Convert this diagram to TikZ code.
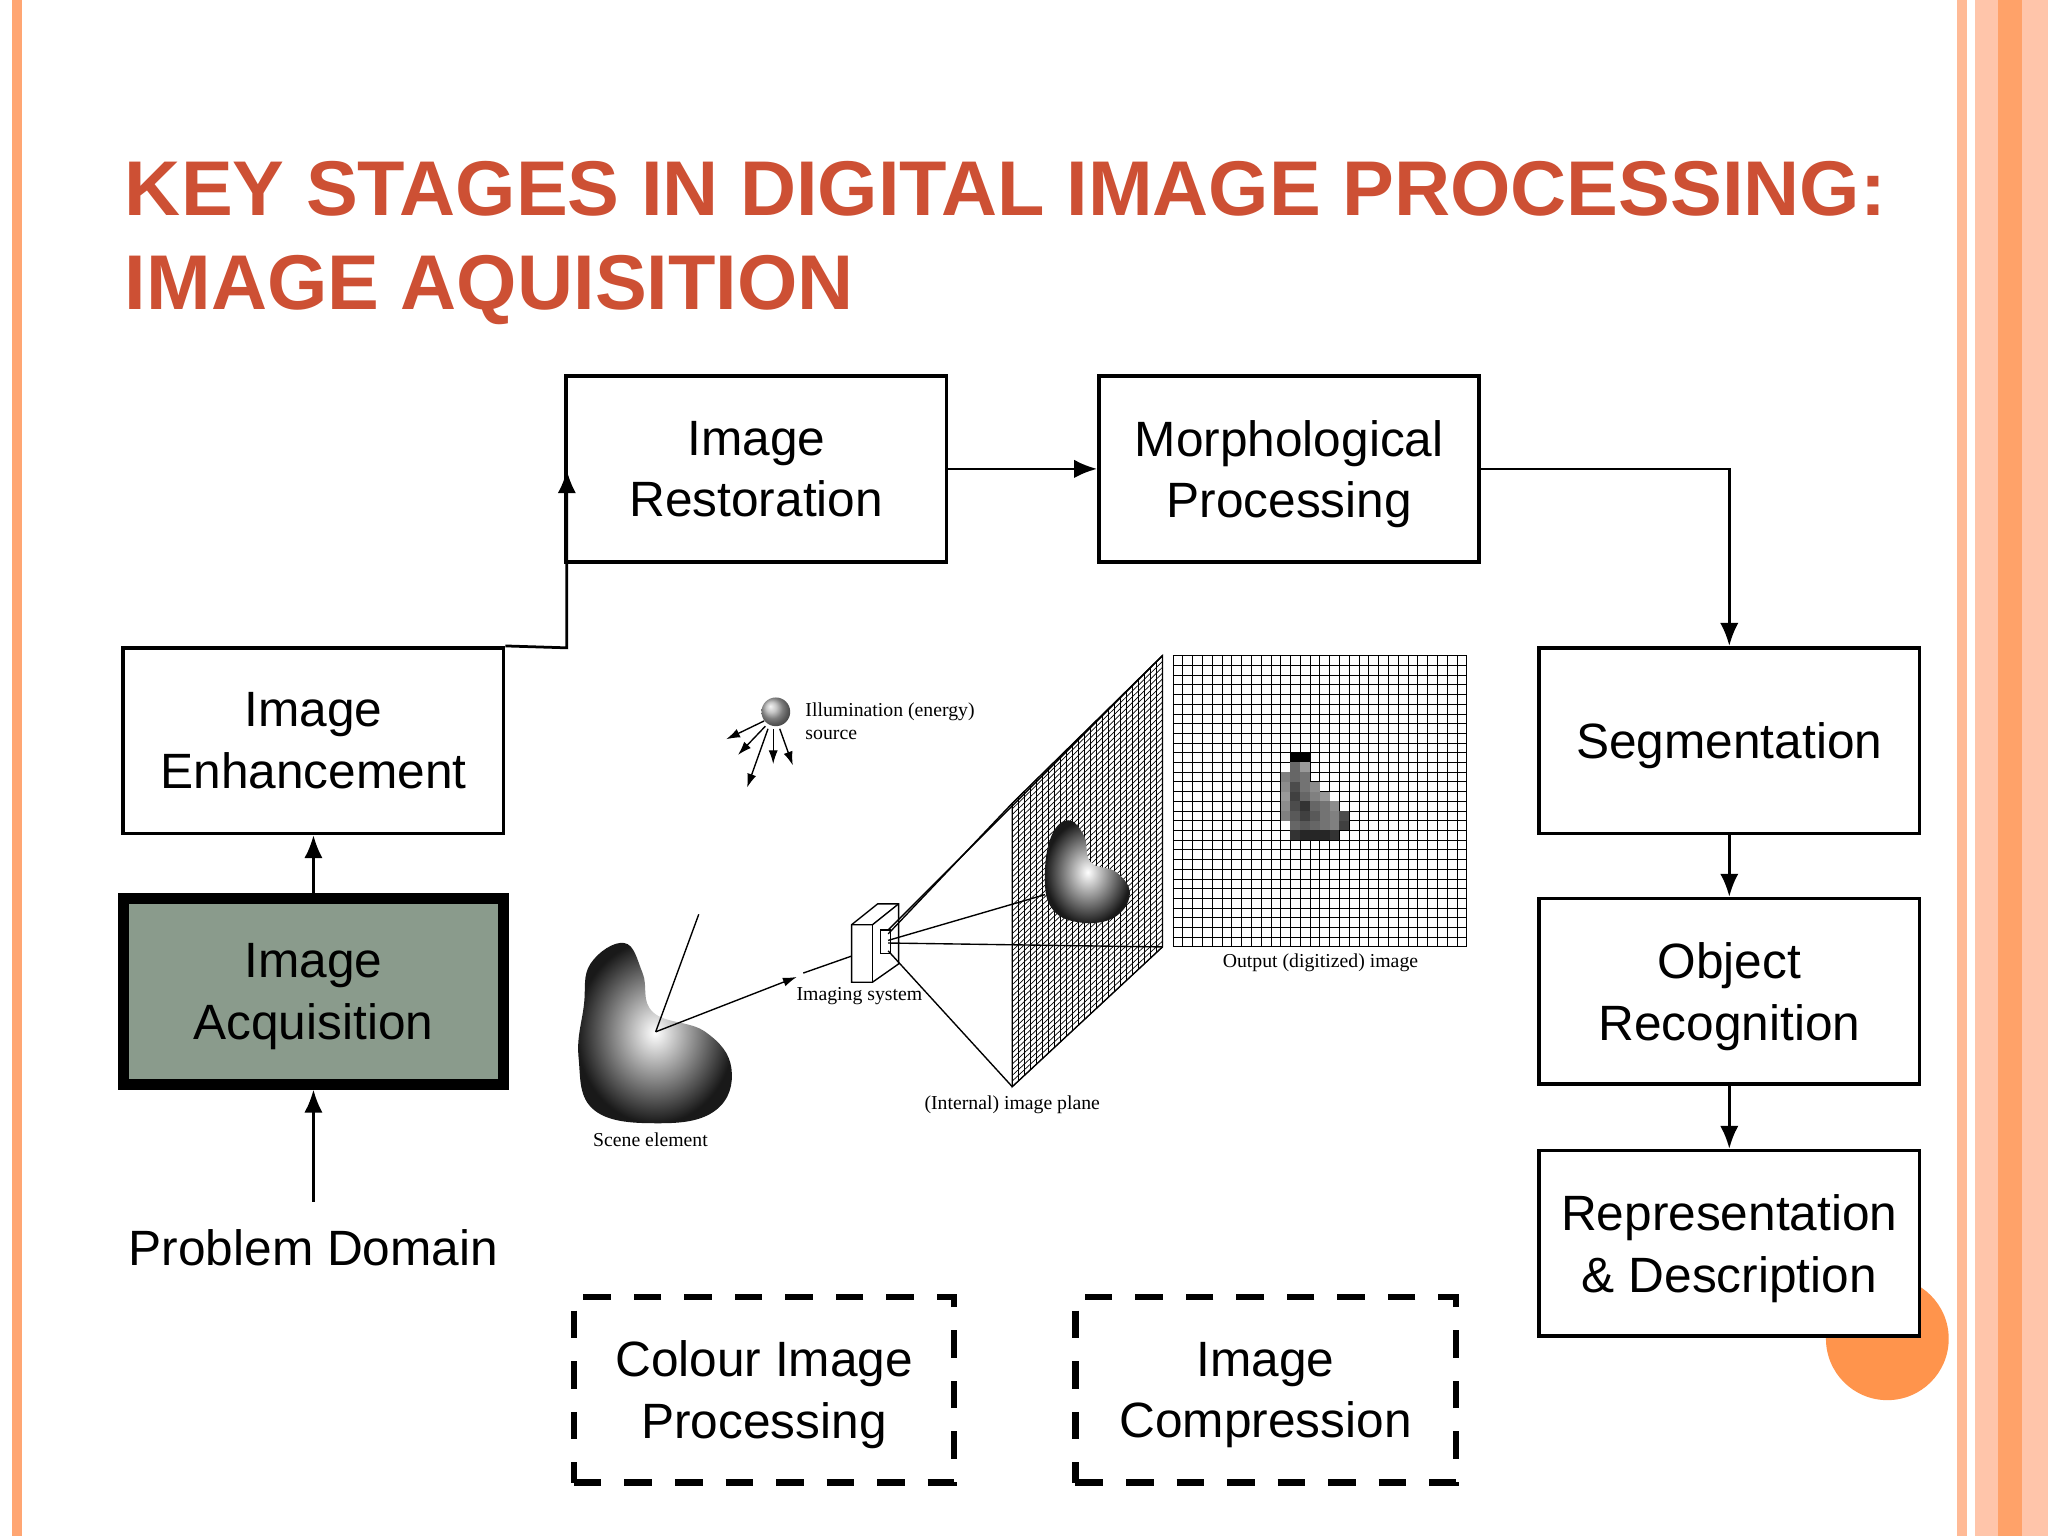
\documentclass[tikz,border=0pt]{standalone}
\usepackage{fontspec}
\setmainfont{Liberation Sans}
\newfontfamily\serifsm{Liberation Serif}
\begin{document}
\begin{tikzpicture}[x=0.01cm,y=-0.01cm,
  box/.style={draw,line width=0.8pt,minimum width=2.91cm,minimum height=1.42cm,align=center,inner sep=0pt,font=\fontsize{10.8}{13.4}\selectfont,fill=white,text depth=0pt},
  dbox/.style={box,dashed,dash pattern=on 6pt off 5pt,line width=1.4pt},
  arr/.style={-{Latex[length=5pt,width=4pt]},line width=0.6pt},
  lab/.style={font=\serifsm\fontsize{4.3}{5}\selectfont,inner sep=0pt,align=left},
  thin/.style={line width=0.3pt}]
\usetikzlibrary{arrows.meta}
\useasboundingbox (0,0) rectangle (1568,1176);
\fill[white] (0,0) rectangle (1568,1176);
% borders
\fill[orange!40!pink] (9,0) rectangle (17,1176);
\fill[orange!35!pink!80] (1498,0) rectangle (1506,1176);
\fill[orange!30!pink!70] (1512,0) rectangle (1568,1176);
\fill[orange!45!pink] (1530,0) rectangle (1548,1176);
% title
\definecolor{titlec}{RGB}{205,80,52}
\node[anchor=base west,inner sep=0pt,text=titlec,font=\bfseries\fontsize{16.9}{20}\selectfont] (t1) at (95,165) {KEY STAGES IN DIGITAL IMAGE PROCESSING:};
\node[anchor=base west,inner sep=0pt,text=titlec,font=\bfseries\fontsize{16.9}{20}\selectfont] (t2) at (95,237) {IMAGE AQUISITION};
% orange circle
\fill[orange!80!red!70, draw=none] (1445,1025) circle (47);
% boxes
\node[box] (rest) at (579,359) {Image\\Restoration};
\node[box] (morph) at (987,359) {Morphological\\Processing};
\node[box] (enh) at (240,567) {Image\\Enhancement};
\node[box,fill={rgb,255:red,138;green,155;blue,140},line width=2.4pt] (acq) at (240,759) {Image\\Acquisition};
\node[box] (seg) at (1324,567) {Segmentation};
\node[box] (obj) at (1324,759) {Object\\Recognition};
\node[box] (rep) at (1324,952) {Representation\\\& Description};
\node[dbox] (col) at (585,1064) {Colour Image\\Processing};
\node[dbox] (comp) at (969,1064) {Image\\Compression};
\node[font=\fontsize{10.8}{13.4}\selectfont,inner sep=0pt] (pd) at (240,955) {Problem Domain};
% arrows
\draw[arr] (240,920) -- (acq.south);
\draw[arr] (acq.north) -- (enh.south);
\coordinate (c1) at (434,360);
\draw[arr] (enh.north east) -- (434,496) -- (c1);
\draw[arr] (rest.east) -- (morph.west);
\draw[arr] (morph.east) -- (1324,359) -- (seg.north);
\draw[arr] (seg.south) -- (obj.north);
\draw[arr] (obj.south) -- (rep.north);
% illustration: scene element
\shade[inner color=white,outer color=black!90] plot[smooth cycle,tension=0.7] coordinates {(452,738) (478,722) (492,745) (500,775) (540,790) (560,818) (548,850) (505,860) (455,850) (443,810) (447,770)};
\node[lab] (se) at (498,873) {Scene element};
% scene lines
\draw[thin] (502,790) -- (535,700);
\draw[thin,-{Latex[length=3pt,width=2pt]}] (502,790) -- (610,748);
\draw[thin] (615,745) -- (652,732);
% illumination
\shade[ball color=gray!60] (594,545) circle (11);
\draw[thin,-{Latex[length=3pt,width=2pt]}] (585,552) -- (556,566);
\draw[thin,-{Latex[length=3pt,width=2pt]}] (586,556) -- (565,578);
\draw[thin,-{Latex[length=3pt,width=2pt]}] (588,558) -- (572,603);
\draw[thin,-{Latex[length=3pt,width=2pt]}] (592,558) -- (592,585);
\draw[thin,-{Latex[length=3pt,width=2pt]}] (597,558) -- (607,586);
\node[lab,anchor=west] (il) at (616,552) {Illumination (energy)\\source};
% imaging system box
\draw[thin,fill=white] (652,708) -- (672,692) -- (688,692) -- (688,738) -- (668,752) -- (652,752) -- cycle;
\draw[thin] (652,708) -- (668,708) -- (688,692);
\draw[thin] (668,708) -- (668,752);
\draw[thin] (674,712) rectangle (682,730);
\node[lab] (is) at (658,763) {Imaging system};
% plane grid
\foreach \t in {0,0.04,...,1.001}{
  \draw[line width=0.15pt] ({775+115*\t},{615-113*\t}) -- ({775+115*\t},{832-107*\t});
}
\foreach \t in {0,0.02,...,1.001}{
  \draw[line width=0.15pt] (775,{615+217*\t}) -- (890,{502+223*\t});
}
\draw[thin] (775,615) -- (890,502) -- (890,725) -- (775,832) -- cycle;
% projection lines
\draw[thin] (680,715) -- (775,615);
\draw[thin] (680,712) -- (890,502);
\draw[thin] (680,722) -- (890,725);
\draw[thin] (680,728) -- (775,832);
\draw[thin] (680,720) -- (800,685);
% small blob on plane
\shade[inner color=white,outer color=black!90] plot[smooth cycle,tension=0.7] coordinates {(805,640) (818,628) (830,640) (835,660) (855,668) (865,685) (852,703) (825,706) (805,695) (800,670)};
\node[lab] (ip) at (775,846) {(Internal) image plane};
% output grid
\foreach \i in {0,...,30}{
  \draw[line width=0.15pt] ({898+7.5*\i},502) -- ({898+7.5*\i},725);
  \draw[line width=0.15pt] (898,{502+7.43*\i}) -- (1123,{502+7.43*\i});
}
% pixelated blob
\foreach \c/\r/\g in {12/10/100,13/10/100,12/11/60,13/11/40,11/12/50,12/12/60,13/12/55,11/13/45,12/13/70,13/13/55,14/13/45,11/14/40,12/14/75,13/14/60,14/14/50,15/14/40,11/15/45,12/15/70,13/15/80,14/15/60,15/15/55,16/15/45,11/16/50,12/16/65,13/16/75,14/16/65,15/16/55,16/16/50,17/16/70,12/17/60,13/17/65,14/17/60,15/17/55,16/17/50,17/17/75,12/18/80,13/18/85,14/18/85,15/18/85,16/18/80}{
  \fill[black!\g] ({898+7.5*\c},{502+7.43*\r}) rectangle ++(7.5,7.43);
}
\node[lab] (oi) at (1011,737) {Output (digitized) image};
\end{tikzpicture}
\end{document}
